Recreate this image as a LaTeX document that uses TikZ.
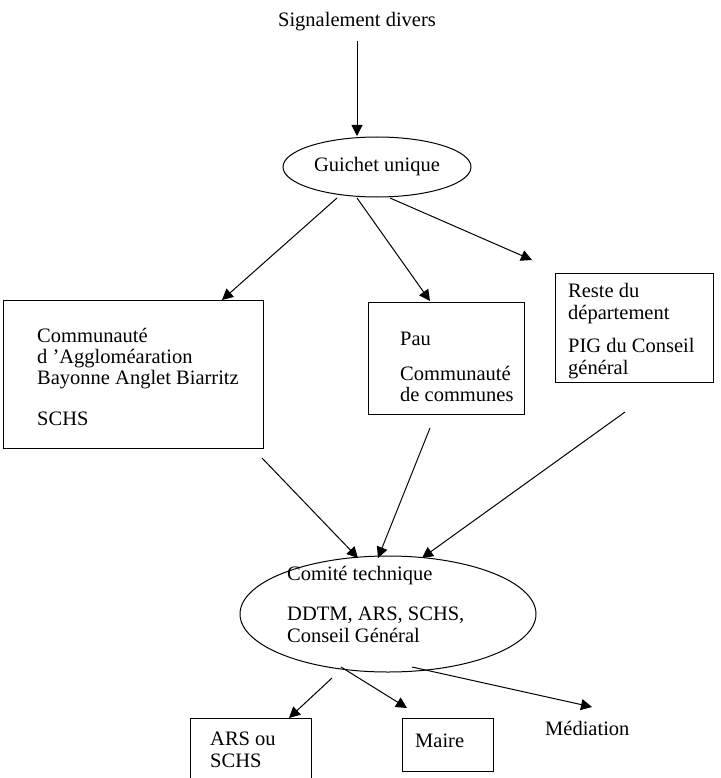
\documentclass[tikz,border=0pt]{standalone}
\usepackage{fontspec}
\setmainfont{Liberation Serif}
\usetikzlibrary{arrows.meta,shapes.geometric}
\begin{document}
\begin{tikzpicture}[x=1pt,y=-1pt,
  every node/.style={font=\fontsize{20.5}{23.5}\selectfont},
  lbl/.style={inner sep=0pt, anchor=base west},
  boxn/.style={draw, line width=1pt, rectangle, inner sep=0pt},
  ell/.style={draw, line width=1pt, ellipse, inner sep=0pt},
  arr/.style={line width=1pt, -{Triangle[length=11pt,width=11pt]}}]
\useasboundingbox (0,0) rectangle (720,778);

% title
\node[inner sep=0pt, anchor=base] (title) at (357,27) {Signalement divers};

% Guichet
\node[ell, minimum width=188pt, minimum height=60pt] (guichet) at (377,167) {Guichet unique};

% boxes
\node[boxn, minimum width=260pt, minimum height=148pt] (caab) at (133,374) {};
\node[lbl] (caab1) at (37,342) {Communauté};
\node[lbl] (caab2) at (37,363) {d ’Aggloméaration};
\node[lbl] (caab3) at (37,384) {Bayonne Anglet Biarritz};
\node[lbl] (caab4) at (37,425) {SCHS};

\node[boxn, minimum width=156pt, minimum height=112pt] (pau) at (446,358) {};
\node[lbl] (pau1) at (400,345) {Pau};
\node[lbl] (pau2) at (400,380) {Communauté};
\node[lbl] (pau3) at (400,401) {de communes};

\node[boxn, minimum width=158pt, minimum height=109pt] (reste) at (634,327.5) {};
\node[lbl] (reste1) at (568,297) {Reste du};
\node[lbl] (reste2) at (568,319) {département};
\node[lbl] (reste3) at (568,352) {PIG du Conseil};
\node[lbl] (reste4) at (568,374) {général};

% Comite
\node[ell, minimum width=296pt, minimum height=116pt] (comite) at (388,614) {};
\node[lbl] (com1) at (287,580) {Comité technique};
\node[lbl] (com2) at (287,620) {DDTM, ARS, SCHS,};
\node[lbl] (com3) at (287,642) {Conseil Général};

% bottom
\node[boxn, minimum width=121pt, minimum height=82pt] (ars) at (250.5,759) {};
\node[lbl] (ars1) at (210,745) {ARS ou};
\node[lbl] (ars2) at (210,767) {SCHS};
\node[boxn, minimum width=91pt, minimum height=53pt] (maire) at (447.5,744.5) {};
\node[lbl] (maire1) at (415,747) {Maire};
\node[lbl] (med) at (545,735) {Médiation};

% connector end points
\coordinate (t0) at (357,41);
\coordinate (t1) at (357,136);
\coordinate (g1) at (337,198);
\coordinate (g1e) at (222,300);
\coordinate (g2) at (357,198);
\coordinate (g2e) at (430,301);
\coordinate (g3) at (390,198);
\coordinate (g3e) at (532,260);
\coordinate (c1) at (262,458);
\coordinate (c1e) at (358,558);
\coordinate (c2) at (430,428);
\coordinate (c2e) at (378,558);
\coordinate (c3) at (625,412);
\coordinate (c3e) at (422,558);
\coordinate (b1) at (332,678);
\coordinate (b1e) at (289,718);
\coordinate (b2) at (341,667);
\coordinate (b2e) at (407,708);
\coordinate (b3) at (412,667);
\coordinate (b3e) at (592,707);

\draw[arr] (t0) -- (t1);
\draw[arr] (g1) -- (g1e);
\draw[arr] (g2) -- (g2e);
\draw[arr] (g3) -- (g3e);
\draw[arr] (c1) -- (c1e);
\draw[arr] (c2) -- (c2e);
\draw[arr] (c3) -- (c3e);
\draw[arr] (b1) -- (b1e);
\draw[arr] (b2) -- (b2e);
\draw[arr] (b3) -- (b3e);
\end{tikzpicture}
\end{document}
